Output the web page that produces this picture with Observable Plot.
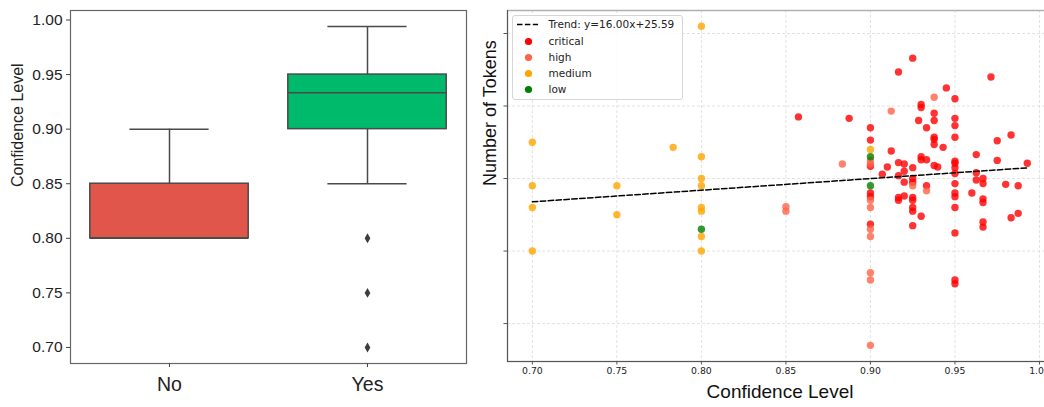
<!DOCTYPE html>
<html><head><meta charset="utf-8">
<script src="https://cdn.jsdelivr.net/npm/d3@7"></script>
<script src="https://cdn.jsdelivr.net/npm/@observablehq/plot@0.6"></script>
<style>
html,body{margin:0;padding:0;background:#fff;overflow:hidden;}
#wrap{position:relative;width:1044px;height:407px;overflow:hidden;background:#fff;}
#left{position:absolute;left:0;top:0;}
#right{position:absolute;left:470px;top:0;}
#legend{position:absolute;left:512px;top:15px;width:169px;height:83px;border:1px solid #d6d6d6;border-radius:3px;background:rgba(255,255,255,0.85);}
svg{max-width:none !important;}
</style></head>
<body><div id="wrap"><div id="left"></div><div id="right"></div><div id="legend"></div></div>
<script>
// ---------- Left panel: box plot ----------
const groups = ["No", "Yes"];
const q1 = [0.80, 0.90];
const medians = [0.80, 0.9333];
const q3 = [0.85, 0.95];
const whiskerLo = [0.80, 0.85];
const whiskerHi = [0.90, 0.994];
const boxColors = ["#e1564b", "#00ba6b"];
const outlierGroup = ["Yes", "Yes", "Yes"];
const outlierValues = [0.80, 0.75, 0.70];
const confTicks = [0.70, 0.75, 0.80, 0.85, 0.90, 0.95, 1.00];

// ---------- Right panel: scatter ----------
const severities = ["critical", "high", "medium", "low"];
const sevColors = ["#ff0000", "#ff6347", "#ffa500", "#008000"];

const criticalConf = [0.8574,0.8874,0.90,0.90,0.90,0.90,0.90,0.90,
  0.9166,0.925,0.9713,0.9449,0.95,0.93,0.93,0.9285,0.9377,0.9377,0.9332,0.95,0.95,0.95,0.9377,0.9377,0.9377,0.943,
  0.9123,0.93,0.93,0.9332,0.9377,0.9398,0.9166,0.92,0.91,0.925,0.92,0.907,0.9166,0.925,0.925,0.92,0.9332,
  0.9166,0.9166,0.92,0.925,0.925,0.925,0.925,0.93,0.925,
  0.95,0.95,0.95,0.95,0.95,0.95,0.95,0.95,0.95,0.95,0.95,
  0.9626,0.9626,0.9626,0.9666,0.9666,0.96,0.9666,0.9666,0.9666,0.9666,
  0.975,0.975,0.9832,0.98,0.9874,0.9928,0.9832,0.9874];
const criticalTokens = [48.5,48.3,47.0,45.3,41.7,38.0,37.5,33.7,
  54.7,56.6,54.0,52.5,51.0,50.2,49.8,48.0,49.0,48.0,47.0,48.3,47.3,45.7,45.7,45.4,44.7,44.3,
  43.8,43.0,42.6,42.6,41.8,41.6,42.2,42.0,41.6,41.5,41.0,40.6,40.4,40.0,39.5,39.5,39.0,
  37.4,37.0,37.6,37.4,37.0,36.0,35.5,34.8,33.5,
  42.4,42.1,41.5,40.7,39.3,38.0,37.5,36.0,32.5,26.0,25.5,
  43.3,40.8,39.8,40.0,39.3,38.0,37.2,36.7,34.0,33.3,
  45.2,42.5,46.0,39.2,39.0,42.1,34.6,35.2];

const highConf = [0.8834,0.85,0.85,0.9123,0.9377,0.90,0.90,0.90,0.90,0.90,0.90,0.90,0.90,0.925,0.9332,0.90];
const highTokens = [42.0,36.1,35.5,49.3,51.2,42.0,37.0,36.0,33.0,32.0,27.0,26.0,17.0,39.0,38.3,42.5];

const mediumConf = [0.80,0.70,0.7833,0.80,0.80,0.80,0.70,0.75,0.70,0.75,0.80,0.80,0.80,0.70,0.80,0.90];
const mediumTokens = [61.0,45.0,44.3,43.0,40.0,39.0,39.0,39.0,36.0,35.0,36.0,35.5,32.0,30.0,30.0,44.0];

const lowConf = [0.80,0.90,0.90];
const lowTokens = [33.0,43.0,39.0];

const trendX = [0.70, 0.993];
const trendY = [36.79, 41.48];   // y = 16.00x + 25.59
const trendLabel = "Trend: y=16.00x+25.59";

const scatterXTicks = [0.70, 0.75, 0.80, 0.85, 0.90, 0.95, 1.00];
const scatterYTicks = [20, 30, 40, 50, 60];

// ---------- build tables ----------
const boxes = groups.map((g, i) => ({g, q1: q1[i], med: medians[i], q3: q3[i], lo: whiskerLo[i], hi: whiskerHi[i]}));
const outliers = outlierValues.map((v, i) => ({g: outlierGroup[i], v}));
const points = [];
const sevData = {critical: [criticalConf, criticalTokens], high: [highConf, highTokens], medium: [mediumConf, mediumTokens], low: [lowConf, lowTokens]};
for (const s of severities) {
  const [xs, ys] = sevData[s];
  xs.forEach((x, i) => points.push({sev: s, conf: x, tokens: ys[i]}));
}
const trend = trendX.map((x, i) => ({x, y: trendY[i]}));

const lineCol = "#4a4a4a";
const left = Plot.plot({
  width: 470, height: 407,
  marginLeft: 70, marginRight: 4, marginTop: 10, marginBottom: 44,
  style: {fontFamily: "'Liberation Sans', Arial, sans-serif", background: "white", overflow: "visible", color: "#222"},
  x: {type: "band", domain: groups, padding: 0, label: null},
  y: {domain: [0.6853, 1.0087], label: null},
  color: {type: "ordinal", domain: groups, range: boxColors},
  marks: [
    Plot.ruleX(boxes, {x: "g", y1: "lo", y2: "q1", stroke: lineCol, strokeWidth: 1.5}),
    Plot.ruleX(boxes, {x: "g", y1: "q3", y2: "hi", stroke: lineCol, strokeWidth: 1.5}),
    Plot.tickY(boxes, {x: "g", y: "lo", insetLeft: 59.4, insetRight: 59.4, stroke: lineCol, strokeWidth: 1.5}),
    Plot.tickY(boxes, {x: "g", y: "hi", insetLeft: 59.4, insetRight: 59.4, stroke: lineCol, strokeWidth: 1.5}),
    Plot.barY(boxes, {x: "g", y1: "q1", y2: "q3", fill: "g", stroke: lineCol, strokeWidth: 1.5, insetLeft: 19.8, insetRight: 19.8}),
    Plot.tickY(boxes, {x: "g", y: "med", insetLeft: 19.8, insetRight: 19.8, stroke: lineCol, strokeWidth: 1.5}),
    Plot.dot(outliers, {x: "g", y: "v", symbol: "diamond", r: 3, fill: "#3d3d3d", stroke: "none"}),
    Plot.frame({stroke: "#666", strokeWidth: 1.2}),
    Plot.axisY({ticks: confTicks, tickFormat: d3.format(".2f"), tickSize: 4, tickPadding: 4, fontSize: 15.5, stroke: "#444"}),
    Plot.axisX({tickSize: 4, tickPadding: 10, fontSize: 19.5, stroke: "#444"}),
    Plot.text(["Confidence Level"], {frameAnchor: "left", dx: -53, rotate: -90, fontSize: 16, fill: "#222"})
  ]
});
document.getElementById("left").appendChild(left);

const right = Plot.plot({
  width: 582, height: 407,
  marginLeft: 37, marginRight: 0, marginTop: 10, marginBottom: 46,
  style: {fontFamily: "'DejaVu Sans', sans-serif", background: "white", overflow: "visible", color: "#222"},
  x: {domain: [0.6853, 1.0077], label: null},
  y: {domain: [14.77, 63.17], label: null},
  color: {domain: severities, range: sevColors},
  marks: [
    Plot.gridX(scatterXTicks, {stroke: "#dadada", strokeOpacity: 1, strokeDasharray: "3,2", strokeWidth: 0.8}),
    Plot.gridY(scatterYTicks, {stroke: "#dadada", strokeOpacity: 1, strokeDasharray: "3,2", strokeWidth: 0.8}),
    Plot.frame({stroke: "#b0b0b0", strokeWidth: 1.5}),
    Plot.frame({anchor: "left", stroke: "#555", strokeWidth: 1}),
    Plot.frame({anchor: "bottom", stroke: "#555", strokeWidth: 1}),
    Plot.dot(points, {x: "conf", y: "tokens", fill: "sev", r: 3.7, fillOpacity: 0.8, stroke: "none"}),
    Plot.line(trend, {x: "x", y: "y", stroke: "#000", strokeWidth: 1.5, strokeDasharray: "5.5,2.4"}),
    Plot.axisX({ticks: scatterXTicks, tickFormat: d3.format(".2f"), tickSize: 3.5, tickPadding: 2, fontSize: 9.3, stroke: "#555"}),
    Plot.axisY({ticks: scatterYTicks, tickFormat: () => "", tickSize: 3.5, stroke: "#555"}),
    Plot.text(["Number of Tokens"], {frameAnchor: "left", dx: -17, rotate: -90, fontSize: 18, fontFamily: "'Liberation Sans', Arial, sans-serif", fill: "#111"}),
    Plot.text(["Confidence Level"], {frameAnchor: "bottom", dy: 36, fontSize: 19, fontFamily: "'Liberation Sans', Arial, sans-serif", fill: "#111"})
  ]
});
document.getElementById("right").appendChild(right);

// ---------- Legend ----------
const leg = d3.select("#legend").append("svg").attr("width", 169).attr("height", 83)
  .style("font-family", "'DejaVu Sans', sans-serif").style("font-size", "10.5px");
leg.append("line").attr("x1", 4).attr("x2", 25).attr("y1", 8.5).attr("y2", 8.5)
  .attr("stroke", "#000").attr("stroke-width", 1.5).attr("stroke-dasharray", "5.5,2.4");
leg.append("text").attr("x", 35.5).attr("y", 8.5).attr("dy", "0.35em").attr("fill", "#222").text(trendLabel);
severities.forEach((s, i) => {
  const y = 25.5 + i * 16;
  leg.append("circle").attr("cx", 15.5).attr("cy", y).attr("r", 3.6).attr("fill", sevColors[i]);
  leg.append("text").attr("x", 35.5).attr("y", y).attr("dy", "0.35em").attr("fill", "#222").text(s);
});
</script>
</body></html>
